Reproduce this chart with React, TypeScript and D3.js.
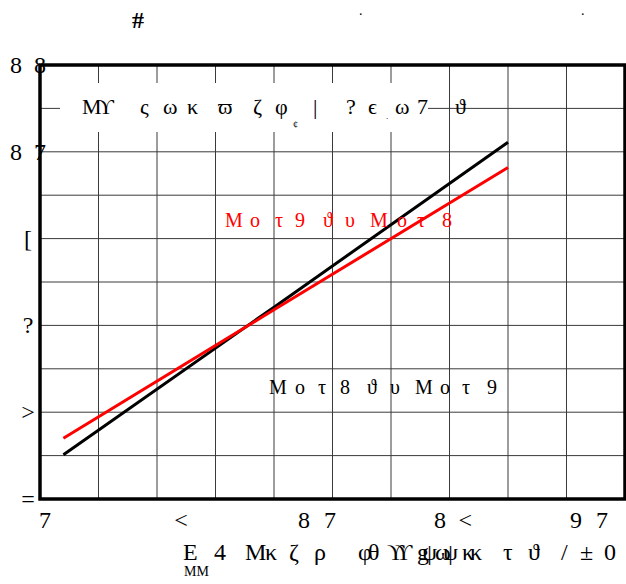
import React from 'react'
import * as d3 from 'd3'

// series
const xs = [0.8, 8, 16]
const blackVals = [6.51, 8.21, 10.11]
const redVals = [6.7, 8.18, 9.82]

const xTicks = [0, 5, 10, 15, 20]
const xTickLabels = ['7', '<', '8 7', '8 <', '9 7']
const yTicks = [6, 7, 8, 9, 10, 11]
const yTickLabels = ['=', '>', '?', '[', '8 7', '8 8']

const W = 626
const H = 584
const FONT = '"Liberation Serif", "Times New Roman", "DejaVu Serif", serif'

export default function App() {
  const x = d3.scaleLinear().domain([0, 20]).range([40, 625])
  const y = d3.scaleLinear().domain([6, 11]).range([499, 65])
  // tick labels sit a bit inside the frame, like the original
  const xLab = d3.scaleLinear().domain([0, 20]).range([45, 589])

  const line = d3.line<number>()
    .x((d, i) => x(xs[i]))
    .y(d => y(d))

  const vGrid = d3.range(0, 20.01, 2)
  const hGrid = d3.range(6, 11.01, 0.5)

  return (
    <svg width={W} height={H} style={{position: 'absolute', left: 0, top: 0, background: '#fff'}}
      fontFamily={FONT}>
      {/* grid */}
      <g stroke="#3a3a3a" strokeWidth={1}>
        {vGrid.map(v => <line key={'v' + v} x1={x(v)} x2={x(v)} y1={y(11)} y2={y(6)} />)}
        {hGrid.map(v => <line key={'h' + v} x1={x(0)} x2={x(20)} y1={y(v)} y2={y(v)} />)}
      </g>

      {/* white box behind the legend text */}
      <rect x={60} y={83} width={368} height={49} fill="#fff" />

      {/* frame */}
      <rect x={x(0)} y={y(11)} width={x(20) - x(0)} height={y(6) - y(11)}
        fill="none" stroke="#000" strokeWidth={3.5} />

      {/* series */}
      <path d={line(blackVals) || ''} fill="none" stroke="#000" strokeWidth={3} />
      <path d={line(redVals) || ''} fill="none" stroke="#ff0000" strokeWidth={3} />

      {/* y tick labels */}
      {yTicks.map((v, i) => (
        <text key={'yl' + v} x={28} y={y(v) + 8} fontSize={24} textAnchor="middle"
          {...(yTickLabels[i].length > 1 ? {textLength: 36, lengthAdjust: 'spacing'} : {})}>
          {yTickLabels[i]}
        </text>
      ))}

      {/* x tick labels */}
      {xTicks.map((v, i) => (
        <text key={'xl' + v} x={xLab(v)} y={528} fontSize={24} textAnchor="middle"
          {...(xTickLabels[i].length > 1 ? {textLength: 38, lengthAdjust: 'spacing'} : {})}>
          {xTickLabels[i]}
        </text>
      ))}

      {/* legend line at the top */}
      <text x="82 98 140 163 187 218 253 275 313 346 368 395 417" y={114} fontSize={22}>
        Μϒςωκϖζφ|?ϵω7
      </text>
      <text x={293} y={128} fontSize={10}>¢</text>
      <text x={386} y={119} fontSize={9}>.</text>
      <text x={455} y={114} fontSize={22}>ϑ</text>

      {/* line labels */}
      <text x="225 250 275 295 323 345 370 397 417 442" y={227} fontSize={20} fill="#ff0000">
        Μοτ9ϑυΜοτ8
      </text>
      <text x="269 295 318 340 367 390 415 440 462 487" y={394} fontSize={20} fill="#000">
        Μοτ8ϑυΜοτ9
      </text>

      {/* x axis title */}
      <text x="183" y={560} fontSize={24}>Ε</text>
      <text x="184" y={576} fontSize={14}>ΜΜ</text>
      <text x="214 245 265 289 314 358 368 387 395 417 422 435 443 462 470 503 528 561 580 604"
        y={560} fontSize={24}>
        4Μκζρφθϒϒgψωψκκτϑ/±0
      </text>

      {/* stray marks at the top */}
      <text x={132} y={28} fontSize={24} fontWeight="bold">#</text>
      <text x={359} y={15} fontSize={14}>.</text>
      <text x={581} y={15} fontSize={14}>.</text>
    </svg>
  )
}
